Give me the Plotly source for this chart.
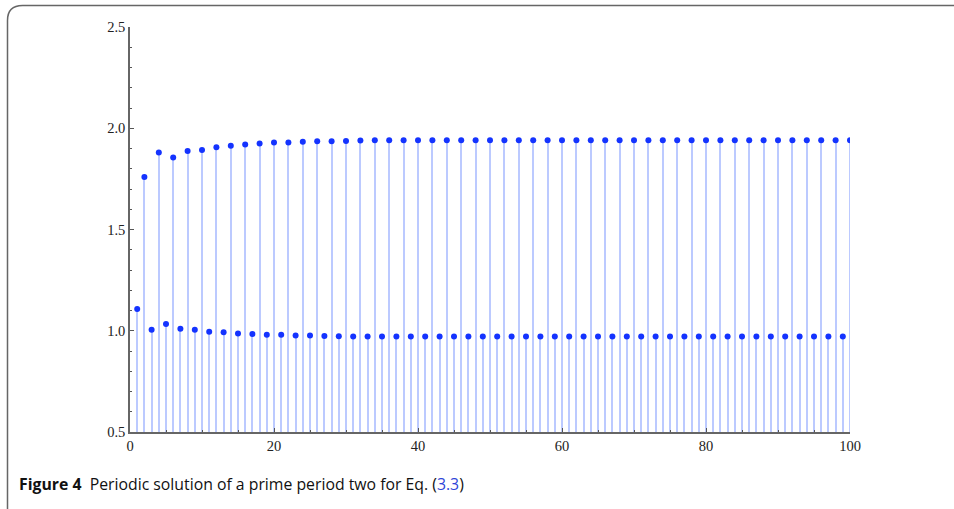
import plotly.graph_objects as go

# n = 1, 3, 5, ..., 99 (lower branch)
odd_n = list(range(1, 100, 2))
odd_values = [1.108, 1.005, 1.033, 1.010, 1.005, 0.995, 0.992, 0.987, 0.984, 0.980,
              0.980, 0.976, 0.976, 0.974, 0.973, 0.972, 0.972, 0.972, 0.972, 0.972,
              0.972, 0.972, 0.972, 0.972, 0.972, 0.972, 0.972, 0.972, 0.972, 0.972,
              0.972, 0.972, 0.972, 0.972, 0.972, 0.972, 0.972, 0.972, 0.972, 0.972,
              0.972, 0.972, 0.972, 0.972, 0.972, 0.972, 0.972, 0.972, 0.972, 0.972]
# n = 2, 4, 6, ..., 100 (upper branch)
even_n = list(range(2, 101, 2))
even_values = [1.759, 1.880, 1.856, 1.888, 1.893, 1.906, 1.913, 1.920, 1.925, 1.930,
               1.930, 1.933, 1.936, 1.936, 1.937, 1.940, 1.941, 1.941, 1.941, 1.941,
               1.941, 1.941, 1.941, 1.941, 1.941, 1.941, 1.941, 1.941, 1.941, 1.941,
               1.941, 1.941, 1.941, 1.941, 1.941, 1.941, 1.941, 1.941, 1.941, 1.941,
               1.941, 1.941, 1.941, 1.941, 1.941, 1.941, 1.941, 1.941, 1.941, 1.941]

x_ticks = [0, 20, 40, 60, 80, 100]
y_ticks = [0.5, 1.0, 1.5, 2.0, 2.5]
y_base = 0.5

all_n = odd_n + even_n
all_v = odd_values + even_values

W, H = 954, 509
L, R, T, B = 130, 104, 27, 77
pw, ph = W - L - R, H - T - B

def px(xp):
    return (xp - L) / pw

def py(yp):
    return (H - B - yp) / ph

fig = go.Figure()
fig.add_trace(go.Bar(
    x=all_n, y=[v - y_base for v in all_v], base=y_base,
    width=0.3, marker=dict(color="#bccaff", line=dict(width=0)),
    hoverinfo="skip", showlegend=False,
))
fig.add_trace(go.Scatter(
    x=all_n, y=all_v, mode="markers",
    marker=dict(color="#1433ff", size=6),
    showlegend=False,
))

fig.update_layout(
    width=W, height=H,
    margin=dict(l=L, r=R, t=T, b=B, pad=0),
    paper_bgcolor="white", plot_bgcolor="white",
    bargap=0,
    font=dict(family="Liberation Serif", size=14, color="#222"),
    xaxis=dict(range=[0, 100], tickvals=x_ticks, ticks="inside", ticklen=4,
               tickcolor="#555", showgrid=False, zeroline=False,
               showline=True, linecolor="#666", linewidth=1.5,
               minor=dict(dtick=5, tick0=0, ticks="inside", ticklen=2.5, tickcolor="#555", showgrid=False),
               tickfont=dict(family="Liberation Serif", size=14.5, color="#222")),
    yaxis=dict(range=[0.5, 2.5], tickvals=y_ticks, tickformat=".1f",
               ticks="inside", ticklen=4, tickcolor="#555",
               showgrid=False, zeroline=False,
               showline=True, linecolor="#666", linewidth=1.5,
               minor=dict(dtick=0.1, tick0=0.5, ticks="inside", ticklen=2.5, tickcolor="#555", showgrid=False),
               tickfont=dict(family="Liberation Serif", size=14.5, color="#222")),
)

# rounded frame (top and left edges)
r = 15
path = (f"M {px(7.5)},{py(515)} L {px(7.5)},{py(5.5 + r)} "
        f"Q {px(7.5)},{py(5.5)} {px(7.5 + r)},{py(5.5)} L {px(960)},{py(5.5)}")
fig.add_shape(type="path", xref="paper", yref="paper", path=path,
              line=dict(color="#666", width=1.5))

fig.add_annotation(
    xref="paper", yref="paper", x=px(17), y=py(484),
    xanchor="left", yanchor="middle", showarrow=False,
    text="<b>Figure 4</b>\u00a0\u00a0Periodic solution of a prime period two for Eq. (<span style='color:#2f45d8'>3.3</span>)",
    font=dict(family="Open Sans", size=15.8, color="#111"),
)

fig.write_html("out.html", config={"displayModeBar": False},
               post_script="document.body.style.margin='0';document.body.style.overflow='hidden';")
